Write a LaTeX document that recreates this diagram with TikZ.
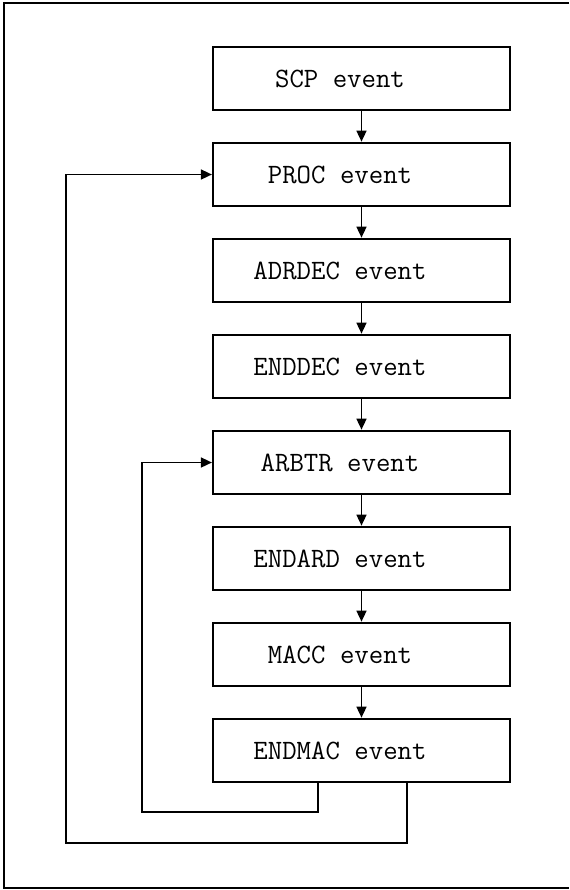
\documentclass[tikz,border=0pt]{standalone}
\usepackage{tikz}
\usetikzlibrary{arrows.meta}

\tikzset{
  evbox/.style={draw, line width=1.1pt, minimum width=148.5pt, minimum height=31.75pt, inner sep=0pt},
  evlabel/.style={xshift=-10.75pt, font=\fontsize{14}{16}\selectfont\ttfamily},
  flow/.style={line width=0.8pt, -{Triangle[width=5pt,length=5.5pt]}},
  frame/.style={line width=0.7pt}
}

\begin{document}
\begin{tikzpicture}[x=0.5pt, y=-0.5pt]
    \useasboundingbox (0,0) rectangle (569,890);

    \coordinate (o1) at (407,843);
    \coordinate (o2) at (66,843);
    \coordinate (i1) at (318,812);
    \coordinate (i2) at (142,812);

\node[evbox, label={[evlabel]center:SCP event}] (scp) at (361.5,78.5) {};
\node[evbox, label={[evlabel]center:PROC event}] (proc) at (361.5,174.5) {};
\node[evbox, label={[evlabel]center:ADRDEC event}] (adrdec) at (361.5,270.5) {};
\node[evbox, label={[evlabel]center:ENDDEC event}] (enddec) at (361.5,366.5) {};
\node[evbox, label={[evlabel]center:ARBTR event}] (arbtr) at (361.5,462.5) {};
\node[evbox, label={[evlabel]center:ENDARD event}] (endard) at (361.5,558.5) {};
\node[evbox, label={[evlabel]center:MACC event}] (macc) at (361.5,654.5) {};
\node[evbox, label={[evlabel]center:ENDMAC event}] (endmac) at (361.5,750.5) {};

\draw[flow] (scp) -- (proc);
\draw[flow] (proc) -- (adrdec);
\draw[flow] (adrdec) -- (enddec);
\draw[flow] (enddec) -- (arbtr);
\draw[flow] (arbtr) -- (endard);
\draw[flow] (endard) -- (macc);
\draw[flow] (macc) -- (endmac);

\draw[flow] (endmac.south -| o1) -- (o1) -- (o2) |- (proc.west);
\draw[flow] (endmac.south -| i1) -- (i1) -- (i2) |- (arbtr.west);

\draw[frame] (569,3) -- (4,3) -- (4,888) -- (175,888) -- (569,888);
  \end{tikzpicture}
\end{document}
